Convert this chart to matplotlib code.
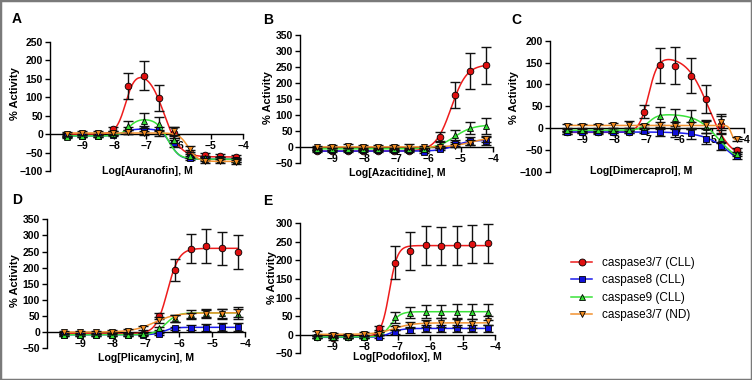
import numpy as np
import matplotlib
matplotlib.use("Agg")
import matplotlib.pyplot as plt
from matplotlib.lines import Line2D
from matplotlib.patches import Rectangle

plt.rcParams['font.family'] = ['Liberation Sans', 'DejaVu Sans']

# ---------------- data ----------------
log_conc = [-9.47, -9.00, -8.52, -8.04, -7.56, -7.09, -6.61, -6.13, -5.65, -5.18, -4.70, -4.22]

series_names = ["caspase3/7 (CLL)", "caspase8 (CLL)", "caspase9 (CLL)", "caspase3/7 (ND)"]

drugs = ["Auranofin", "Azacitidine", "Dimercaprol", "Plicamycin", "Podofilox"]
panel_letters = ["A", "B", "C", "D", "E"]

# Panel A - Auranofin
A_red = [-2, 0, -2, 13, 131, 158, 97, 3, -52, -57, -60, -63]
A_red_err = [5, 4, 4, 5, 35, 40, 35, 15, 8, 6, 5, 5]
A_blue = [-5, -4, -5, -2, 10, 12, 10, -25, -66, -67, -68, -70]
A_blue_err = [3, 3, 3, 3, 10, 10, 10, 10, 5, 5, 5, 5]
A_green = [-8, -5, -5, 0, 22, 36, 27, -15, -60, -65, -68, -70]
A_green_err = [3, 3, 3, 3, 12, 20, 18, 10, 5, 5, 5, 5]
A_orange = [0, 3, 2, 2, 5, 3, 4, 8, -40, -72, -73, -75]
A_orange_err = [5, 5, 5, 5, 5, 5, 8, 10, 8, 6, 6, 6]

# Panel B - Azacitidine
B_red = [-12, -13, -13, -13, -12, -12, -13, -8, 33, 163, 238, 255]
B_red_err = [3, 3, 3, 3, 3, 3, 3, 5, 15, 42, 55, 57]
B_blue = [-10, -10, -10, -10, -10, -10, -10, -14, -5, 10, 20, 20]
B_blue_err = [3, 3, 3, 3, 3, 3, 3, 3, 5, 5, 12, 12]
B_green = [-5, -5, -5, -5, -5, -5, -5, -4, 7, 38, 60, 67]
B_green_err = [3, 3, 3, 3, 3, 3, 3, 3, 8, 15, 20, 25]
B_orange = [0, 2, 4, 2, 2, 2, 2, 1, 1, 5, 14, 25]
B_orange_err = [5, 5, 6, 6, 6, 6, 7, 4, 4, 5, 8, 10]

# Panel C - Dimercaprol
C_red = [-10, -9, -10, -9, -8, 37, 144, 143, 120, 66, 8, -50]
C_red_err = [3, 3, 3, 3, 3, 15, 40, 42, 40, 32, 20, 5]
C_blue = [-10, -9, -9, -8, -8, -6, -8, -10, -12, -24, -42, -65]
C_blue_err = [3, 3, 3, 3, 3, 5, 10, 10, 12, 12, 8, 5]
C_green = [-5, -5, -5, -4, -4, 3, 28, 24, 20, 3, -23, -60]
C_green_err = [3, 3, 3, 3, 3, 5, 20, 20, 22, 15, 10, 5]
C_orange = [5, 4, 5, 6, 8, 5, 6, 5, 6, 7, 13, -25]
C_orange_err = [5, 5, 5, 5, 7, 5, 8, 8, 8, 10, 18, 5]

# Panel D - Plicamycin
D_red = [-5, -5, -5, -5, -5, -5, 50, 193, 258, 268, 260, 248]
D_red_err = [3, 3, 3, 3, 3, 3, 10, 35, 45, 52, 52, 52]
D_blue = [-8, -8, -8, -8, -8, -8, -5, 12, 14, 14, 17, 15]
D_blue_err = [3, 3, 3, 3, 3, 3, 3, 5, 8, 10, 12, 12]
D_green = [-8, -8, -8, -8, -8, -7, 12, 43, 57, 60, 58, 57]
D_green_err = [3, 3, 3, 3, 3, 3, 5, 10, 12, 12, 15, 15]
D_orange = [0, 0, 0, 1, 3, 12, 38, 43, 50, 56, 57, 63]
D_orange_err = [5, 5, 5, 5, 6, 6, 8, 10, 10, 12, 15, 15]

# Panel E - Podofilox
E_red = [-5, -10, -6, -5, 19, 194, 225, 241, 239, 241, 244, 246]
E_red_err = [3, 3, 3, 3, 5, 45, 52, 52, 52, 52, 52, 52]
E_blue = [-7, -7, -7, -7, -5, 8, 14, 17, 17, 17, 17, 17]
E_blue_err = [3, 3, 3, 3, 3, 5, 8, 10, 10, 10, 10, 10]
E_green = [-6, -6, -6, -6, 4, 47, 59, 62, 62, 62, 62, 62]
E_green_err = [3, 3, 3, 3, 4, 15, 15, 18, 18, 20, 20, 22]
E_orange = [4, 0, -4, 2, 3, 19, 26, 30, 32, 32, 30, 38]
E_orange_err = [5, 5, 5, 5, 5, 5, 8, 10, 12, 12, 12, 12]

# fitted curve parameters
# sigmoid: (left, right, logEC50, hill); bell: (left, top, right, ec1, h1, ec2, h2)
A_fits = [("bell", (0, 170, -62, -7.65, 3.0, -6.45, 1.8)),
          ("bell", (-5, 14, -68, -7.7, 3.0, -6.25, 3.0)),
          ("bell", (-5, 42, -68, -7.55, 3.0, -6.35, 2.5)),
          ("sig", (3, -74, -5.7, 3.0))]
B_fits = [("sig", (-12, 258, -5.3, 1.8)),
          ("sig", (-12, 22, -5.2, 1.8)),
          ("sig", (-5, 70, -5.2, 1.5)),
          ("sig", (1, 30, -4.7, 1.5))]
C_fits = [("bell", (-10, 165, -70, -6.95, 3.0, -5.1, 1.3)),
          ("sig", (-9, -120, -4.3, 1.0)),
          ("bell", (-5, 32, -80, -6.95, 3.0, -4.8, 1.3)),
          ("sig", (6, -28, -4.4, 10.0))]
D_fits = [("sig", (-5, 260, -6.35, 2.5)),
          ("sig", (-8, 15, -6.45, 3.0)),
          ("sig", (-8, 60, -6.4, 2.5)),
          ("sig", (0, 60, -6.75, 1.3))]
E_fits = [("sig", (-5, 240, -7.25, 3.5)),
          ("sig", (-7, 17, -7.2, 2.5)),
          ("sig", (-6, 62, -7.2, 3.0)),
          ("sig", (1, 32, -7.1, 1.5))]

y_ticks = {
    "A": [-100, -50, 0, 50, 100, 150, 200, 250],
    "B": [-50, 0, 50, 100, 150, 200, 250, 300, 350],
    "C": [-100, -50, 0, 50, 100, 150, 200],
    "D": [-50, 0, 50, 100, 150, 200, 250, 300, 350],
    "E": [-50, 0, 50, 100, 150, 200, 250, 300],
}
x_ticks = [-9, -8, -7, -6, -5, -4]

panel_data = {
    "A": ([A_red, A_blue, A_green, A_orange], [A_red_err, A_blue_err, A_green_err, A_orange_err], A_fits),
    "B": ([B_red, B_blue, B_green, B_orange], [B_red_err, B_blue_err, B_green_err, B_orange_err], B_fits),
    "C": ([C_red, C_blue, C_green, C_orange], [C_red_err, C_blue_err, C_green_err, C_orange_err], C_fits),
    "D": ([D_red, D_blue, D_green, D_orange], [D_red_err, D_blue_err, D_green_err, D_orange_err], D_fits),
    "E": ([E_red, E_blue, E_green, E_orange], [E_red_err, E_blue_err, E_green_err, E_orange_err], E_fits),
}

# ---------------- style ----------------
line_colors = ['#ee1c1c', '#1c1cee', '#3ae33a', '#f39230']
face_colors = ['#e01010', '#1010d8', '#33dd33', '#f08a20']
markers = ['o', 's', '^', 'v']

W, H = 752, 380
# axes boxes in pixels: left, right, top, bottom
boxes = {
    "A": (50, 243, 41.7, 171.0),
    "B": (300, 493, 35.0, 163.3),
    "C": (550, 744, 40.7, 171.7),
    "D": (47, 245, 219.3, 348.3),
    "E": (300, 495, 223.3, 353.3),
}
letter_pos = {"A": (12, 19), "B": (263, 19.5), "C": (511, 20), "D": (12, 200), "E": (263, 201)}
ylab_pos = {"A": (15, 94), "B": (268, 98), "C": (514, 98), "D": (15, 281), "E": (272, 278)}
xlab_pos = {"A": (147, 171.5), "B": (397, 173.5), "C": (641, 171), "D": (146, 358), "E": (397, 357)}


def sig(x, left, right, ec, h):
    return left + (right - left) / (1 + 10 ** ((ec - x) * h))


def bell(x, left, top, right, ec1, h1, ec2, h2):
    return left + (top - left) / (1 + 10 ** ((ec1 - x) * h1)) + (right - top) / (1 + 10 ** ((ec2 - x) * h2))


fig = plt.figure(figsize=(W / 100, H / 100), dpi=100)
fig.patch.set_facecolor('white')

xs = np.array(log_conc)
xc = np.linspace(min(log_conc), max(log_conc), 400)

for key, drug in zip(panel_letters, drugs):
    l, r, t, b = boxes[key]
    ax = fig.add_axes([l / W, 1 - b / H, (r - l) / W, (b - t) / H])
    vals, errs, fits = panel_data[key]
    for i in range(4):
        kind, p = fits[i]
        yc = bell(xc, *p) if kind == "bell" else sig(xc, *p)
        ax.plot(xc, yc, color=line_colors[i], lw=1.1, zorder=3 + i, clip_on=False)
        ax.errorbar(xs, vals[i], yerr=errs[i], fmt='none', ecolor='#111111', elinewidth=1.0,
                    capsize=3.5, capthick=1.0, zorder=3 + i, clip_on=False)
        ax.plot(xs, vals[i], linestyle='none', marker=markers[i], markersize=4.8,
                markerfacecolor=face_colors[i], markeredgecolor='black', markeredgewidth=0.6,
                zorder=3.5 + i, clip_on=False)
    ax.set_xlim(-10, -4)
    yt = y_ticks[key]
    ax.set_ylim(yt[0], yt[-1])
    ax.set_yticks(yt)
    ax.set_xticks(x_ticks)
    ax.spines['top'].set_visible(False)
    ax.spines['right'].set_visible(False)
    ax.spines['bottom'].set_position(('data', 0))
    ax.spines['bottom'].set_bounds(-10, -4)
    for s in ['left', 'bottom']:
        ax.spines[s].set_linewidth(1.0)
    ax.tick_params(direction='out', length=3.5, width=1.0, labelsize=7.5, pad=1.5)
    for lab in ax.get_xticklabels() + ax.get_yticklabels():
        lab.set_fontweight('bold')
    ax.patch.set_alpha(0)

    lx, ly = letter_pos[key]
    fig.text(lx / W, 1 - ly / H, key, fontsize=10, fontweight='bold', ha='left', va='center')
    yx, yy = ylab_pos[key]
    fig.text(yx / W, 1 - yy / H, "% Activity", fontsize=8, fontweight='bold', rotation=90,
             ha='center', va='center')
    xx, xy = xlab_pos[key]
    fig.text(xx / W, 1 - xy / H, "Log[%s], M" % drug, fontsize=7.6, fontweight='bold',
             ha='center', va='center')

handles = [Line2D([0], [0], color=line_colors[i], lw=1.1, marker=markers[i], markersize=5,
                  markerfacecolor=face_colors[i], markeredgecolor='black', markeredgewidth=0.6)
           for i in range(4)]
fig.legend(handles, series_names, loc='center left', bbox_to_anchor=(565 / W, 1 - 289 / H),
           frameon=False, fontsize=8.5, handlelength=1.8, handletextpad=0.8, labelspacing=0.45,
           borderpad=0)

fig.patches.append(Rectangle((0, 0), 1, 1, transform=fig.transFigure, fill=False,
                             edgecolor='#7a7a7a', lw=2.5, zorder=10))

fig.savefig("out.png", dpi=100, facecolor='white')
